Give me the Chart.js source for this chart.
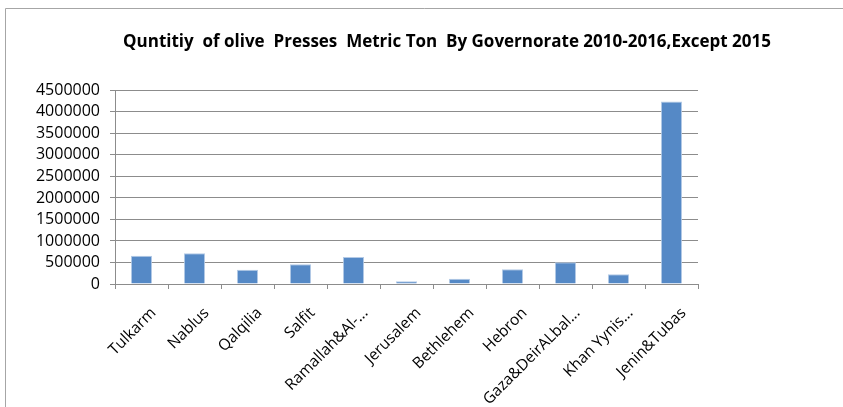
<!DOCTYPE html>
<html>
<head>
<meta charset="utf-8">
<script src="https://cdn.jsdelivr.net/npm/chart.js@4/dist/chart.umd.min.js"></script>
<style>
  body { margin: 0; background: #fff; }
  #wrap { position: relative; width: 843px; height: 407px; }
</style>
</head>
<body>
<div id="wrap"><canvas id="graphCanvas" width="843" height="407"></canvas></div>
<script>
var chartTitle = 'Quntitiy  of olive  Presses  Metric Ton  By Governorate 2010-2016,Except 2015';
var governorates = ['Tulkarm', 'Nablus', 'Qalqilia', 'Salfit', 'Ramallah&Al-...', 'Jerusalem',
                    'Bethlehem', 'Hebron', 'Gaza&DeirALbal...', 'Khan Yynis...', 'Jenin&Tubas'];
var quantities = [656000, 712000, 332000, 457000, 626000, 63000, 124000, 341000, 503000, 225000, 4240000];
var yMax = 4500000;
var yStep = 500000;

// grey frame round the chart, as in the sheet
var framePlugin = {
  id: 'frame',
  beforeDraw: function(chart) {
    var ctx = chart.ctx;
    ctx.save();
    ctx.strokeStyle = '#a6a6a6';
    ctx.lineWidth = 1;
    ctx.beginPath();
    ctx.moveTo(5.5, 407);
    ctx.lineTo(5.5, 8.5);
    ctx.lineTo(843, 8.5);
    ctx.stroke();
    ctx.restore();
  }
};

var chartdata = {
  labels: governorates,
  datasets: [{
    label: 'Quantity',
    backgroundColor: '#5589C6',
    borderColor: '#b4cae6',
    borderWidth: 1,
    categoryPercentage: 1,
    barPercentage: 0.4,
    data: quantities
  }]
};

var barGraph = new Chart(document.getElementById('graphCanvas'), {
  type: 'bar',
  data: chartdata,
  plugins: [framePlugin],
  options: {
    responsive: false,
    animation: false,
    devicePixelRatio: 1,
    // negative right padding so the title is centred like the sheet's
    layout: { padding: { left: 0, right: -51, top: 0, bottom: 0 } },
    plugins: {
      legend: { display: false },
      tooltip: { enabled: false },
      title: {
        display: true,
        text: chartTitle,
        color: '#000',
        font: { family: 'Open Sans', size: 17, weight: 'bold', lineHeight: 1.2 },
        padding: { top: 32, bottom: 38 }
      }
    },
    scales: {
      x: {
        afterFit: function(scale) { scale.height = 123; },
        grid: { offset: true, drawOnChartArea: false, color: '#8c8c8c', tickLength: 5 },
        border: { color: '#8c8c8c' },
        ticks: {
          color: '#000',
          font: { family: 'Open Sans', size: 15.5 },
          maxRotation: 45,
          minRotation: 45,
          autoSkip: false,
          padding: 15,
          labelOffset: 12
        }
      },
      y: {
        min: 0,
        max: yMax,
        afterFit: function(scale) { scale.width = 115; },
        grid: { color: '#8c8c8c', tickLength: 5 },
        border: { color: '#8c8c8c' },
        ticks: {
          stepSize: yStep,
          autoSkip: false,
          color: '#000',
          font: { family: 'Open Sans', size: 16 },
          padding: 10,
          callback: function(v) { return String(v); }
        }
      },
      // empty space on the right of the plot, like the sheet
      spacer: {
        type: 'linear',
        position: 'right',
        display: true,
        afterFit: function(scale) { scale.width = 196; },
        grid: { display: false },
        border: { display: false },
        ticks: { display: false }
      }
    }
  }
});
</script>
</body>
</html>
